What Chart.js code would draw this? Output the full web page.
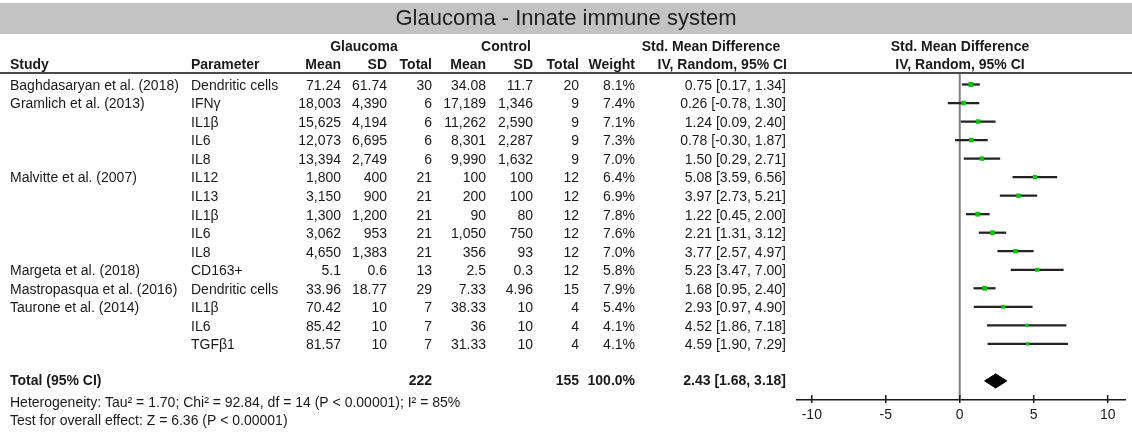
<!DOCTYPE html>
<html>
<head>
<meta charset="utf-8">
<script src="https://cdn.jsdelivr.net/npm/chart.js@4"></script>
<style>
  body { margin: 0; background: #fff; }
  #wrap { width: 1132px; height: 435px; }
</style>
</head>
<body>
<div id="wrap"><canvas id="forest" width="1132" height="435"></canvas></div>
<script>
// ---- data ----
const studies = ['Baghdasaryan et al. (2018)', 'Gramlich et al. (2013)', '', '', '',
  'Malvitte et al. (2007)', '', '', '', '', 'Margeta et al. (2018)',
  'Mastropasqua et al. (2016)', 'Taurone et al. (2014)', '', ''];
const parameters = ['Dendritic cells', 'IFNγ', 'IL1β', 'IL6', 'IL8', 'IL12', 'IL13', 'IL1β',
  'IL6', 'IL8', 'CD163+', 'Dendritic cells', 'IL1β', 'IL6', 'TGFβ1'];
const glaucomaMean = [71.24, 18003, 15625, 12073, 13394, 1800, 3150, 1300, 3062, 4650, 5.1, 33.96, 70.42, 85.42, 81.57];
const glaucomaSD = [61.74, 4390, 4194, 6695, 2749, 400, 900, 1200, 953, 1383, 0.6, 18.77, 10, 10, 10];
const glaucomaN = [30, 6, 6, 6, 6, 21, 21, 21, 21, 21, 13, 29, 7, 7, 7];
const controlMean = [34.08, 17189, 11262, 8301, 9990, 100, 200, 90, 1050, 356, 2.5, 7.33, 38.33, 36, 31.33];
const controlSD = [11.7, 1346, 2590, 2287, 1632, 100, 100, 80, 750, 93, 0.3, 4.96, 10, 10, 10];
const controlN = [20, 9, 9, 9, 9, 12, 12, 12, 12, 12, 12, 15, 4, 4, 4];
const weights = [8.1, 7.4, 7.1, 7.3, 7.0, 6.4, 6.9, 7.8, 7.6, 7.0, 5.8, 7.9, 5.4, 4.1, 4.1];
const smd = [0.75, 0.26, 1.24, 0.78, 1.50, 5.08, 3.97, 1.22, 2.21, 3.77, 5.23, 1.68, 2.93, 4.52, 4.59];
const ciLow = [0.17, -0.78, 0.09, -0.30, 0.29, 3.59, 2.73, 0.45, 1.31, 2.57, 3.47, 0.95, 0.97, 1.86, 1.90];
const ciHigh = [1.34, 1.30, 2.40, 1.87, 2.71, 6.56, 5.21, 2.00, 3.12, 4.97, 7.00, 2.40, 4.90, 7.18, 7.29];

const totalGlaucomaN = 222;
const totalControlN = 155;
const totalWeight = 100.0;
const pooled = { smd: 2.43, low: 1.68, high: 3.18 };
const totalRow = 16;

const xTicks = [-10, -5, 0, 5, 10];
const heterogeneity = 'Heterogeneity: Tau² = 1.70; Chi² = 92.84, df = 14 (P < 0.00001); I² = 85%';
const overallTest = 'Test for overall effect: Z = 6.36 (P < 0.00001)';
const title = 'Glaucoma - Innate immune system';

// ---- helpers ----
const FONT = '"Liberation Sans", Arial, Helvetica, sans-serif';
const fmt = v => v.toLocaleString('en-US', { maximumFractionDigits: 2 });
const ci = (m, lo, hi) => m.toFixed(2) + ' [' + lo.toFixed(2) + ', ' + hi.toFixed(2) + ']';

// right edges of numeric columns
const cols = { gMean: 341, gSD: 387, gN: 432, cMean: 486, cSD: 533, cN: 579, weight: 635, ci: 786 };

function txt(ctx, s, x, y, align, bold) {
  ctx.font = (bold ? 'bold ' : '') + '14px ' + FONT;
  ctx.textAlign = align;
  ctx.fillText(s, x, y);
}

const tablePlugin = {
  id: 'table',
  beforeDraw(chart) {
    const ctx = chart.ctx;
    ctx.save();
    ctx.fillStyle = '#fff';
    ctx.fillRect(0, 0, chart.width, chart.height);
    // title band
    ctx.fillStyle = '#c3c3c3';
    ctx.fillRect(0, 3, chart.width, 31);
    ctx.fillStyle = '#1e1e1e';
    ctx.font = '22px ' + FONT;
    ctx.textAlign = 'center';
    ctx.textBaseline = 'middle';
    ctx.fillText(title, 566, 19);
    ctx.restore();
  },
  beforeDatasetsDraw(chart) {
    const { ctx, chartArea } = chart;
    const x0 = chart.scales.x.getPixelForValue(0);
    ctx.save();
    ctx.strokeStyle = '#808080';
    ctx.lineWidth = 2;
    ctx.beginPath();
    ctx.moveTo(x0, chartArea.top);
    ctx.lineTo(x0, chartArea.bottom);
    ctx.stroke();
    ctx.restore();
  },
  afterDraw(chart) {
    const { ctx } = chart;
    const xs = chart.scales.x, ys = chart.scales.y;
    ctx.save();
    ctx.fillStyle = '#1a1a1a';
    ctx.textBaseline = 'middle';

    // headers
    txt(ctx, 'Glaucoma', 364, 47, 'center', true);
    txt(ctx, 'Control', 506, 47, 'center', true);
    txt(ctx, 'Std. Mean Difference', 711, 47, 'center', true);
    txt(ctx, 'Std. Mean Difference', 960, 47, 'center', true);
    const hy = 65;
    txt(ctx, 'Study', 10, hy, 'left', true);
    txt(ctx, 'Parameter', 191, hy, 'left', true);
    txt(ctx, 'Mean', cols.gMean, hy, 'right', true);
    txt(ctx, 'SD', cols.gSD, hy, 'right', true);
    txt(ctx, 'Total', cols.gN, hy, 'right', true);
    txt(ctx, 'Mean', cols.cMean, hy, 'right', true);
    txt(ctx, 'SD', cols.cSD, hy, 'right', true);
    txt(ctx, 'Total', cols.cN, hy, 'right', true);
    txt(ctx, 'Weight', cols.weight, hy, 'right', true);
    txt(ctx, 'IV, Random, 95% CI', cols.ci + 1, hy, 'right', true);
    txt(ctx, 'IV, Random, 95% CI', 960, hy, 'center', true);

    // header rule
    ctx.strokeStyle = '#4a4a4a';
    ctx.lineWidth = 2;
    ctx.beginPath();
    ctx.moveTo(0, 73);
    ctx.lineTo(chart.width, 73);
    ctx.stroke();

    // study rows
    parameters.forEach((p, i) => {
      const y = ys.getPixelForValue(i) + 1.5;
      if (studies[i]) txt(ctx, studies[i], 10, y, 'left');
      txt(ctx, p, 191, y, 'left');
      txt(ctx, fmt(glaucomaMean[i]), cols.gMean, y, 'right');
      txt(ctx, fmt(glaucomaSD[i]), cols.gSD, y, 'right');
      txt(ctx, String(glaucomaN[i]), cols.gN, y, 'right');
      txt(ctx, fmt(controlMean[i]), cols.cMean, y, 'right');
      txt(ctx, fmt(controlSD[i]), cols.cSD, y, 'right');
      txt(ctx, String(controlN[i]), cols.cN, y, 'right');
      txt(ctx, weights[i].toFixed(1) + '%', cols.weight, y, 'right');
      txt(ctx, ci(smd[i], ciLow[i], ciHigh[i]), cols.ci, y, 'right');
    });

    // total row
    const ty = ys.getPixelForValue(totalRow);
    txt(ctx, 'Total (95% CI)', 10, ty, 'left', true);
    txt(ctx, String(totalGlaucomaN), cols.gN, ty, 'right', true);
    txt(ctx, String(totalControlN), cols.cN, ty, 'right', true);
    txt(ctx, totalWeight.toFixed(1) + '%', cols.weight, ty, 'right', true);
    txt(ctx, ci(pooled.smd, pooled.low, pooled.high), cols.ci, ty, 'right', true);

    txt(ctx, heterogeneity, 10, 403, 'left');
    txt(ctx, overallTest, 10, 421, 'left');

    // axis tick marks crossing the axis line
    const ay = chart.chartArea.bottom;
    ctx.strokeStyle = '#1a1a1a';
    ctx.lineWidth = 1.5;
    xTicks.forEach(v => {
      const px = xs.getPixelForValue(v);
      ctx.beginPath();
      ctx.moveTo(px, ay - 5);
      ctx.lineTo(px, ay + 3);
      ctx.stroke();
    });
    ctx.restore();
  }
};

new Chart(document.getElementById('forest'), {
  type: 'bar',
  data: {
    datasets: [
      {
        type: 'scatter',
        label: 'SMD',
        data: smd.map((m, i) => ({ x: m, y: i })),
        pointStyle: 'rect',
        pointRadius: weights.map(w => 1.2 + 0.28 * w),
        backgroundColor: '#00c800',
        borderWidth: 0,
        order: 1
      },
      {
        type: 'line',
        label: 'Pooled',
        data: [
          { x: pooled.low, y: totalRow },
          { x: pooled.smd, y: totalRow - 0.38 },
          { x: pooled.high, y: totalRow },
          { x: pooled.smd, y: totalRow + 0.38 },
          { x: pooled.low, y: totalRow }
        ],
        borderColor: '#000',
        backgroundColor: '#000',
        borderWidth: 1,
        pointRadius: 0,
        tension: 0,
        fill: 'shape',
        order: 2
      },
      {
        type: 'bar',
        label: '95% CI',
        indexAxis: 'y',
        data: ciLow.map((lo, i) => ({ x: [lo, ciHigh[i]], y: i })),
        backgroundColor: '#222',
        borderWidth: 0,
        barThickness: 1.6,
        order: 3
      }
    ]
  },
  options: {
    indexAxis: 'y',
    responsive: false,
    animation: false,
    events: [],
    layout: { padding: { left: 797, right: 7, top: 73, bottom: 5 } },
    scales: {
      x: {
        type: 'linear',
        position: 'bottom',
        min: -11,
        max: 11.17,
        border: { display: true, color: '#1a1a1a', width: 1.5 },
        grid: { drawOnChartArea: false, drawTicks: false },
        ticks: { padding: 7, color: '#1a1a1a', font: { family: FONT, size: 14 } },
        afterBuildTicks: s => { s.ticks = xTicks.map(v => ({ value: v })); },
        afterFit: s => { s.height = 30; }
      },
      y: {
        type: 'linear',
        reverse: true,
        offset: false,
        min: -0.62,
        max: 17.03,
        display: false
      }
    },
    plugins: {
      legend: { display: false },
      tooltip: { enabled: false },
      title: { display: false }
    }
  },
  plugins: [tablePlugin]
});
</script>
</body>
</html>
